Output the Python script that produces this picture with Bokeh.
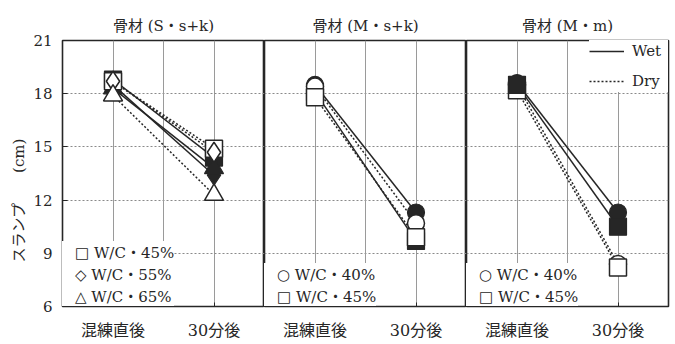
from bokeh.plotting import figure
from bokeh.layouts import row
from bokeh.models import (FactorRange, Range1d, FixedTicker, Span, Legend,
                          LegendItem, Title)
from bokeh.embed import file_html
from bokeh.resources import INLINE

# ---- data -----------------------------------------------------------------
stages = ["混練直後", "30分後"]
y_ticks = [6, 9, 12, 15, 18, 21]
panel_titles = ["骨材 (S・s+k)", "骨材 (M・s+k)", "骨材 (M・m)"]
y_title = "スランプ\u3000\u3000(cm)"

# 骨材 S・s+k : W/C 45, 55, 65 %
p1_labels = ["□ W/C・45%", "◇ W/C・55%", "△ W/C・65%"]
p1_markers = ["square", "diamond", "triangle"]
p1_wet = [[18.8, 14.4], [18.5, 13.4], [18.3, 13.8]]
p1_dry = [[18.7, 14.9], [18.7, 14.7], [17.9, 12.3]]

# 骨材 M・s+k : W/C 40, 45 %
p2_labels = ["○ W/C・40%", "□ W/C・45%"]
p2_markers = ["circle", "square"]
p2_wet = [[18.5, 11.3], [18.1, 9.7]]
p2_dry = [[18.4, 10.7], [17.8, 9.9]]

# 骨材 M・m : W/C 40, 45 %
p3_labels = ["○ W/C・40%", "□ W/C・45%"]
p3_markers = ["circle", "square"]
p3_wet = [[18.6, 11.3], [18.5, 10.5]]
p3_dry = [[18.5, 8.4], [18.2, 8.2]]

# ---- style ----------------------------------------------------------------
INK = "#262626"
SERIF_JP = "'DejaVu Serif', 'Noto Sans CJK JP'"
MARKER_SIZE = {"square": 17, "circle": 17, "diamond": 20, "triangle": 19}
DRY_DASH = "2 2"
Y_MIN, Y_MAX = y_ticks[0], y_ticks[-1]


def make_panel(title, labels, markers, wet, dry, dry_on_top, width,
               left, right, show_y, wet_dry_key):
    p = figure(x_range=FactorRange(factors=stages),
               y_range=Range1d(Y_MIN, Y_MAX),
               width=width, height=344, output_backend="svg",
               toolbar_location=None, title=title,
               min_border_left=left, min_border_right=right,
               min_border_top=40, min_border_bottom=38)
    p.background_fill_color = "white"
    p.border_fill_color = "white"
    p.outline_line_color = INK
    p.outline_line_width = 1.6

    p.title.align = "center"
    p.title.text_font = SERIF_JP
    p.title.text_font_size = "15px"
    p.title.text_font_style = "normal"
    p.title.text_color = INK
    p.title.standoff = 12

    xa = p.xaxis[0]
    xa.axis_line_color = INK
    xa.major_tick_in = 4
    xa.major_tick_out = 0
    xa.major_tick_line_color = INK
    xa.major_label_text_font = SERIF_JP
    xa.major_label_text_font_size = "16px"
    xa.major_label_text_color = INK
    xa.major_label_standoff = 14

    ya = p.yaxis[0]
    ya.ticker = FixedTicker(ticks=y_ticks)
    if show_y:
        ya.axis_line_color = INK
        ya.major_tick_in = 5
        ya.major_tick_out = 0
        ya.minor_tick_line_color = None
        ya.major_tick_line_color = INK
        ya.major_label_text_font = "DejaVu Serif"
        ya.major_label_text_font_size = "15px"
        ya.major_label_text_color = INK
        ya.major_label_standoff = 10
        # vertical quantity label, started a little above the frame bottom
        p.add_layout(Title(text=y_title, align="left", offset=44,
                           standoff=6, text_font=SERIF_JP,
                           text_font_size="15px", text_font_style="normal",
                           text_color=INK), "left")
    else:
        ya.visible = False

    p.ygrid.ticker = FixedTicker(ticks=y_ticks[1:-1])
    p.ygrid.grid_line_color = "#8a8a8a"
    p.ygrid.grid_line_dash = "2 2"
    p.ygrid.grid_line_width = 1
    p.xgrid.grid_line_color = "#9a9a9a"
    p.xgrid.grid_line_width = 1
    p.add_layout(Span(location=1, dimension="height", line_color="#9a9a9a",
                      line_width=1, level="underlay"))

    wet_lines, dry_lines, dry_marks = [], [], []
    for vals_w, vals_d in zip(wet, dry):
        wet_lines.append(p.line(stages, vals_w, line_color=INK,
                                line_width=1.5))
        dry_lines.append(p.line(stages, vals_d, line_color=INK,
                                line_width=1.5, line_dash=DRY_DASH))

    def wet_marks():
        for m, vals in zip(markers, wet):
            p.scatter(stages, vals, marker=m, size=MARKER_SIZE[m],
                      fill_color=INK, line_color=INK, line_width=1.2)

    def dry_marks_draw():
        for m, vals in zip(markers, dry):
            dry_marks.append(p.scatter(stages, vals, marker=m,
                                       size=MARKER_SIZE[m], fill_color="white",
                                       line_color=INK, line_width=1.5))

    if dry_on_top:
        wet_marks()
        dry_marks_draw()
    else:
        dry_marks_draw()
        wet_marks()

    # W/C key: the open-marker symbol is part of each label
    key = Legend(items=[LegendItem(label=lab, renderers=[r])
                        for lab, r in zip(labels, dry_marks)],
                 location="bottom_left", orientation="vertical")
    key.background_fill_color = "white"
    key.background_fill_alpha = 1
    key.border_line_color = None
    key.label_text_font = SERIF_JP
    key.label_text_font_size = "15px"
    key.label_text_color = INK
    key.label_text_line_height = 1.0
    key.glyph_width = 0
    key.glyph_height = 16
    key.label_height = 16
    key.label_standoff = 13
    key.spacing = 1
    key.margin = 0
    key.padding = 14
    p.add_layout(key)

    if wet_dry_key:
        wd = Legend(items=[LegendItem(label="Wet", renderers=[wet_lines[0]]),
                           LegendItem(label="Dry", renderers=[dry_lines[0]])],
                    location="top_right", orientation="vertical")
        wd.background_fill_color = "white"
        wd.background_fill_alpha = 1
        wd.border_line_color = None
        wd.label_text_font = "DejaVu Serif"
        wd.label_text_font_size = "15px"
        wd.label_text_color = INK
        wd.glyph_width = 35
        wd.glyph_height = 22
        wd.label_width = 36
        wd.label_standoff = 8
        wd.spacing = 8
        wd.margin = 0
        wd.padding = 9
        p.add_layout(wd)
    return p


p1 = make_panel(panel_titles[0], p1_labels, p1_markers, p1_wet, p1_dry,
                True, 264, 62, 0, True, False)
p2 = make_panel(panel_titles[1], p2_labels, p2_markers, p2_wet, p2_dry,
                True, 202, 0, 0, False, False)
p3 = make_panel(panel_titles[2], p3_labels, p3_markers, p3_wet, p3_dry,
                False, 209, 0, 7, False, True)

layout = row(p1, p2, p3)
open("out.html", "w").write(file_html(layout, INLINE))
